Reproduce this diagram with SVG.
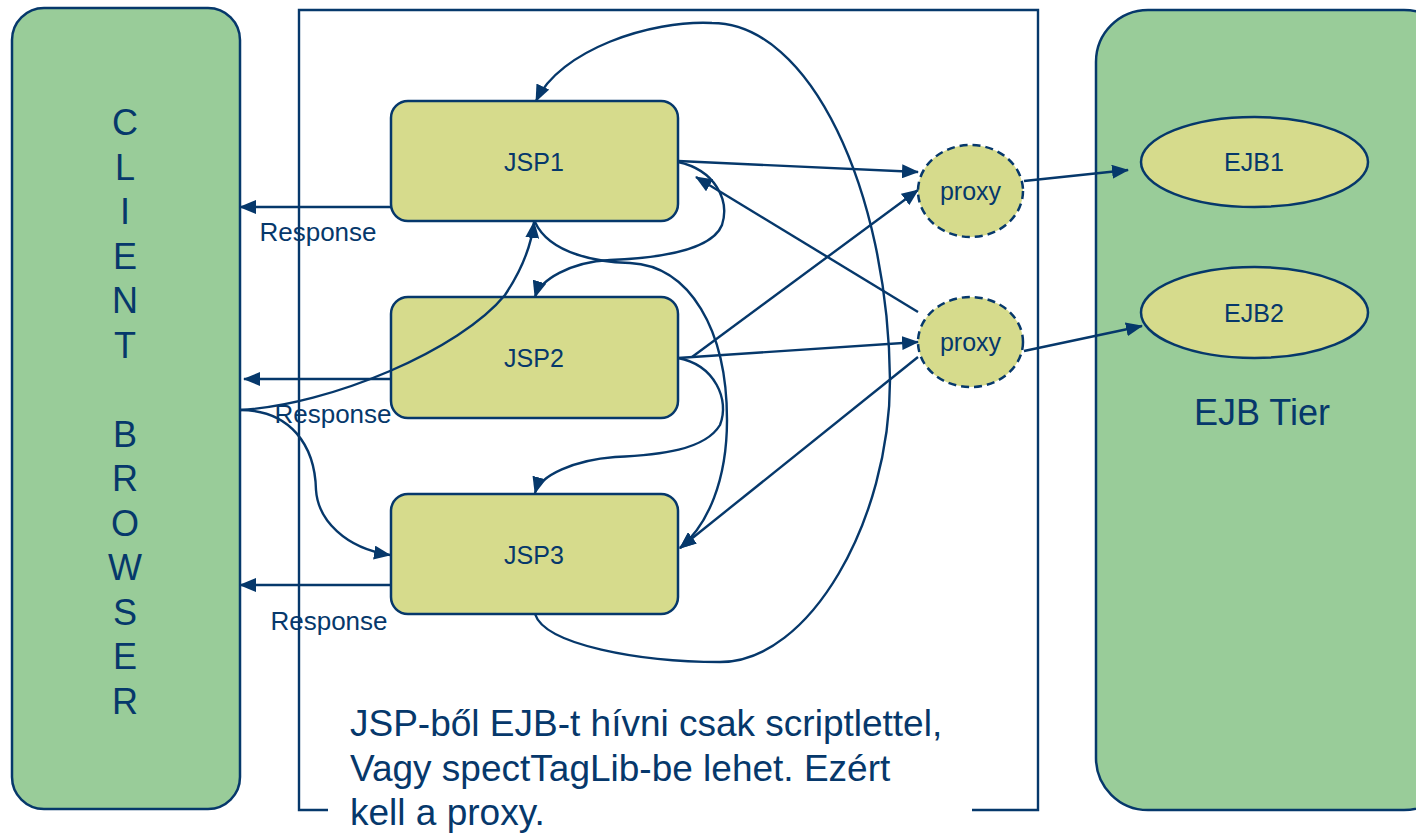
<svg xmlns="http://www.w3.org/2000/svg" width="1416" height="834" viewBox="0 0 1416 834">
<style>
.ln{fill:none;stroke:#06386b;stroke-width:2.4}
.arr{marker-end:url(#ah)}
.box{stroke:#06386b;stroke-width:2.5}
.jsp{fill:#d6db8c}
.tier{fill:#99cc99}
.t{font-family:"Liberation Sans",Arial,sans-serif;fill:#06386b}
.s{font-size:25px}
.m{text-anchor:middle}
.proxy{fill:#d6db8c;stroke:#06386b;stroke-width:2.5;stroke-dasharray:8 5}
</style>
<defs>
<marker id="ah" markerUnits="userSpaceOnUse" markerWidth="17" markerHeight="14" refX="16" refY="7" orient="auto">
<path d="M0,0 L17,7 L0,14 z" fill="#06386b"/>
</marker>
</defs>
<rect width="1416" height="834" fill="#fff"/>

<g id="client">
<rect class="box tier" x="12" y="8" width="228" height="801" rx="32"/>
<g class="t m" font-size="36">
<text x="125" y="135">C</text>
<text x="125" y="179.5">L</text>
<text x="125" y="224">I</text>
<text x="125" y="268.5">E</text>
<text x="125" y="313">N</text>
<text x="125" y="357.5">T</text>
<text x="125" y="446.5">B</text>
<text x="125" y="491">R</text>
<text x="125" y="535.5">O</text>
<text x="125" y="580">W</text>
<text x="125" y="624.5">S</text>
<text x="125" y="669">E</text>
<text x="125" y="713.5">R</text>
</g>
</g>

<g id="webtier">
<path class="ln" d="M328,810 H299 V10 H1038 V810 H972"/>
<text class="t" font-size="37" x="350" y="736">JSP-ből EJB-t hívni csak scriptlettel,</text>
<text class="t" font-size="37" x="350" y="781">Vagy spectTagLib-be lehet. Ezért</text>
<text class="t" font-size="37" x="350" y="825">kell a proxy.</text>
</g>

<g id="ejbtier">
<rect class="box tier" x="1096" y="10" width="360" height="800" rx="52"/>
<text class="t m" font-size="36" x="1262" y="425">EJB Tier</text>
</g>

<g id="jsp1">
<rect class="box jsp" x="391" y="101" width="287" height="120" rx="17"/>
<text class="t s m" x="534" y="171">JSP1</text>
</g>
<g id="jsp2">
<rect class="box jsp" x="391" y="297" width="287" height="121" rx="17"/>
<text class="t s m" x="534" y="367">JSP2</text>
</g>
<g id="jsp3">
<rect class="box jsp" x="391" y="494" width="287" height="120" rx="17"/>
<text class="t s m" x="534" y="564">JSP3</text>
</g>

<g id="proxy1">
<ellipse class="proxy" cx="970.5" cy="191" rx="52.5" ry="46"/>
<text class="t s m" x="970.5" y="200">proxy</text>
</g>
<g id="proxy2">
<ellipse class="proxy" cx="970.5" cy="342" rx="52.5" ry="45"/>
<text class="t s m" x="970.5" y="351">proxy</text>
</g>

<g id="ejb1">
<ellipse class="box jsp" cx="1254.5" cy="162" rx="113.5" ry="45"/>
<text class="t s m" x="1254" y="171">EJB1</text>
</g>
<g id="ejb2">
<ellipse class="box jsp" cx="1254.5" cy="312.5" rx="113.5" ry="45.5"/>
<text class="t s m" x="1254" y="322">EJB2</text>
</g>

<g id="connectors">
<path class="ln arr" d="M391,207 H240"/>
<path class="ln arr" d="M391,379 H244"/>
<path class="ln arr" d="M391,585 H240"/>
<path class="ln arr" d="M535,614 C545,645 640,662 720,662 C810,662 890,520 890,380 C888,190 810,23 712,23 C650,20 560,50 536,101"/>
<path class="ln arr" d="M678,162 C715,170 730,200 722,225 C712,250 660,258 610,260 C570,262 540,280 535,297"/>
<path class="ln arr" d="M535,222 C550,255 600,262 630,263 C690,266 727,330 727,420 C727,480 708,525 680,548"/>
<path class="ln arr" d="M240,410 C330,405 460,350 505,295 C525,265 532,240 534,222"/>
<path class="ln arr" d="M240,410 C290,410 315,445 316,490 C318,520 345,548 390,555"/>
<path class="ln arr" d="M678,358 C715,365 730,400 720,425 C705,450 660,455 615,457 C575,460 540,475 535,493"/>
<path class="ln arr" d="M678,161 L918,172"/>
<path class="ln arr" d="M692,357 L918,190"/>
<path class="ln arr" d="M678,358 L918,342"/>
<path class="ln arr" d="M918,312 L696,177"/>
<path class="ln arr" d="M918,357 L680,548"/>
<path class="ln arr" d="M1024,181 L1128,170"/>
<path class="ln arr" d="M1024,351 L1142,326"/>
<text class="t m" font-size="26" x="318" y="241">Response</text>
<text class="t m" font-size="26" x="333" y="423">Response</text>
<text class="t m" font-size="26" x="329" y="630">Response</text>
</g>
</svg>
